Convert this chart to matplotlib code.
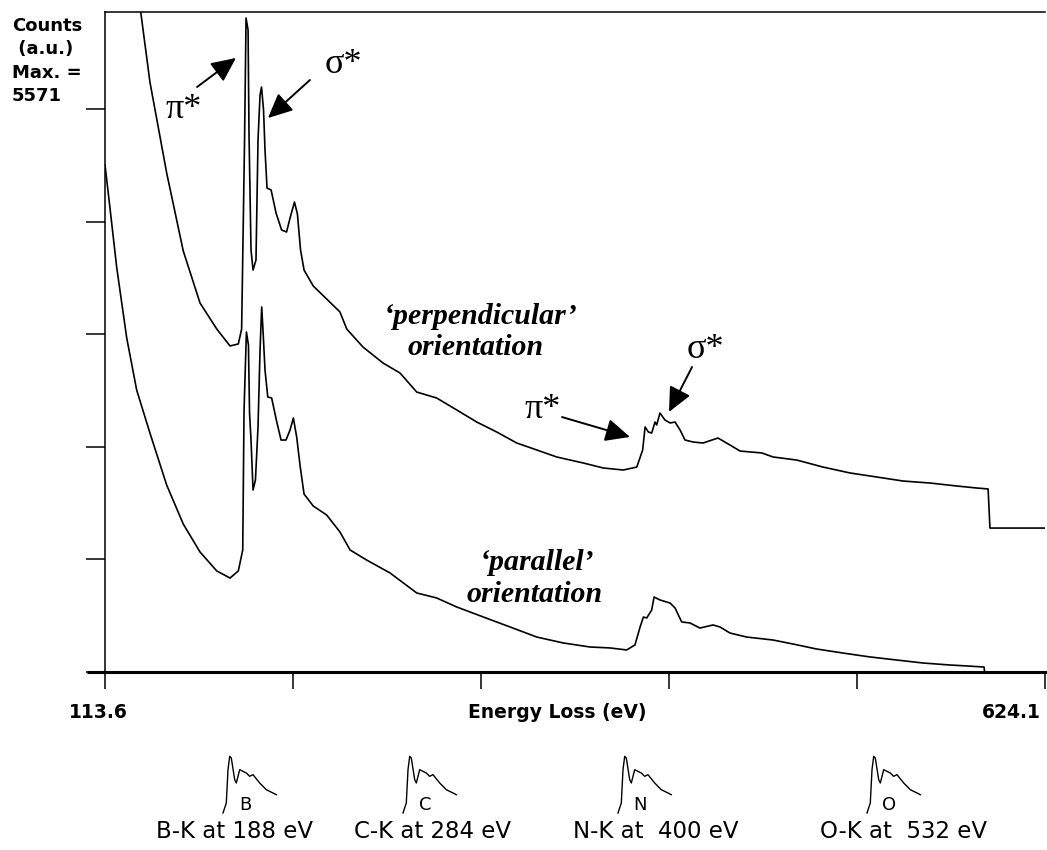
import matplotlib
matplotlib.use('Agg')
import matplotlib.pyplot as plt
from matplotlib.lines import Line2D

# EELS spectra of BN, two orientations (energy loss in eV, counts)
perp_ev = [129.9, 133.0, 138.0, 147.1, 156.1, 165.2, 174.3, 181.5, 186.0, 187.8,
           189.4, 190.2, 191.3, 191.8, 192.9, 194.0, 195.6, 196.7, 197.8, 198.6,
           199.7, 200.5, 201.6, 203.8, 206.5, 209.5, 212.2, 214.1, 216.5, 218.1,
           219.8, 221.7, 226.7, 234.0, 241.2, 244.9, 253.7, 264.6, 273.8, 282.9,
           293.7, 304.6, 315.5, 326.3, 337.2, 348.1, 358.9, 373.4, 384.2, 395.1,
           402.4, 405.6, 406.9, 408.7, 410.5, 412.3, 413.2, 415.0, 417.7, 420.5,
           423.2, 425.9, 428.6, 433.1, 438.4, 446.5, 453.0, 458.5, 470.3, 476.4,
           489.3, 503.5, 518.2, 532.7, 547.0, 561.7, 576.2, 587.0, 593.2, 594.2,
           624.1]
perp_counts = [6179, 5571, 4980, 4212, 3554, 3115, 2895, 2752, 2769, 2895,
               4499, 5520, 5419, 4550, 3562, 3393, 3478, 4491, 4870, 4938,
               4744, 4406, 4085, 4069, 3874, 3731, 3714, 3832, 3967, 3866,
               3562, 3393, 3258, 3148, 3039, 2895, 2743, 2608, 2524, 2363,
               2313, 2212, 2110, 2026, 1933, 1874, 1815, 1764, 1722, 1705,
               1730, 1874, 2068, 2026, 2017, 2110, 2085, 2186, 2127, 2102,
               2110, 2043, 1958, 1941, 1933, 1975, 1916, 1865, 1849, 1815,
               1789, 1730, 1680, 1646, 1612, 1595, 1570, 1553, 1545, 1215,
               1215]

par_ev = [113.6, 116.3, 120.0, 125.4, 130.8, 138.0, 147.1, 156.1, 165.2, 174.3,
          181.5, 186.0, 188.4, 189.1, 190.4, 191.5, 192.1, 192.9, 194.0, 195.3,
          196.7, 197.8, 198.7, 199.4, 200.5, 202.0, 204.1, 206.9, 209.2, 211.9,
          214.1, 215.9, 217.7, 219.5, 221.7, 226.7, 234.0, 241.2, 246.7, 255.7,
          268.4, 282.9, 293.7, 304.6, 319.1, 333.6, 348.1, 362.5, 377.0, 387.9,
          396.9, 401.4, 404.2, 406.0, 407.8, 410.5, 411.8, 415.0, 420.5, 423.2,
          426.8, 431.3, 436.7, 443.8, 447.6, 453.0, 462.1, 476.4, 487.3, 500.1,
          514.4, 529.1, 543.6, 557.8, 572.5, 581.6, 591.0, 591.3]
par_counts = [4280, 3917, 3410, 2819, 2380, 2017, 1578, 1249, 1013, 853,
              793, 853, 1030, 2203, 2870, 2760, 2186, 1958, 1536, 1621,
              2068, 2718, 3081, 2887, 2549, 2321, 2313, 2110, 1958, 1958,
              2043, 2144, 1984, 1747, 1502, 1401, 1325, 1182, 1030, 945,
              836, 667, 625, 549, 464, 380, 295, 245, 211, 203,
              186, 228, 380, 464, 456, 523, 633, 608, 582, 540,
              422, 414, 371, 397, 380, 329, 295, 270, 236, 194,
              160, 127, 101, 76, 59, 51, 42, 0]

x_min, x_max = 113.6, 624.1
y_max = 5571
x_ticks = [113.6, 215.7, 317.8, 419.9, 522.0, 624.1]
y_ticks = [0, 950, 1900, 2850, 3800, 4750]

# edge reference icons shown under the axis
edge_letters = ['B', 'C', 'N', 'O']
edge_labels = ['B-K at 188 eV', 'C-K at 284 eV', 'N-K at  400 eV', 'O-K at  532 eV']
icon_dx = [0, 3.3, 5, 6.7, 8.3, 11.7, 13.3, 16.7, 23.3, 26.7, 30, 36.7, 43.3, 50, 53.3]
icon_dy = [0, 10, 43.3, 56.7, 55, 33.3, 30, 43.3, 40, 36.7, 38.3, 30, 23.3, 20, 18.3]

W, H = 1047, 850
fig = plt.figure(figsize=(W / 100, H / 100), dpi=100)
ax = fig.add_axes([105 / W, 1 - 672 / H, 940 / W, 660 / H])


def fp(x, y):
    # pixel position -> figure fraction
    return x / W, 1 - y / H


ax.plot(perp_ev, perp_counts, color='black', lw=1.2)
ax.plot(par_ev, par_counts, color='black', lw=1.2)
ax.set_xlim(x_min, x_max)
ax.set_ylim(0, y_max)

ax.spines['right'].set_visible(False)
ax.spines['top'].set_linewidth(1.1)
ax.spines['left'].set_linewidth(1.1)
ax.spines['bottom'].set_linewidth(2.2)
ax.plot([-18 / 940, 0], [0, 0], transform=ax.transAxes, clip_on=False,
        color='black', lw=2.2, solid_capstyle='butt')

ax.set_xticks(x_ticks)
ax.set_yticks(y_ticks)
ax.set_xticklabels([])
ax.set_yticklabels([])
ax.tick_params(axis='x', length=12, width=1.1, direction='out')
ax.tick_params(axis='y', length=14, width=1.1, direction='out')

sans = dict(family='DejaVu Sans', fontweight='bold')
fig.text(*fp(98, 712), f'{x_ticks[0]:.1f}', ha='center', va='center', fontsize=13.5, **sans)
fig.text(*fp(557, 712), 'Energy Loss (eV)', ha='center', va='center', fontsize=13.5, **sans)
fig.text(*fp(1011, 712), f'{x_ticks[-1]:.1f}', ha='center', va='center', fontsize=13.5, **sans)
fig.text(*fp(12, 17), f'Counts\n (a.u.)\nMax. =\n{y_max}', ha='left', va='top',
         fontsize=13, linespacing=1.38, **sans)

serif = dict(family='Liberation Serif', fontsize=26, ha='center', va='center')
bi = dict(family='Liberation Serif', fontsize=21.5, fontweight='bold',
          fontstyle='italic', ha='center', va='center')
arrow = dict(arrowstyle='-|>,head_length=0.75,head_width=0.35', mutation_scale=20,
             color='black', lw=1.4, shrinkA=0, shrinkB=0)

# B-K edge
ax.text(156.5, 4744, 'π*', **serif)
ax.annotate('', xy=(184.7, 5183), xytext=(163.6, 4938), arrowprops=arrow)
ax.text(242.9, 5124, 'σ*', **serif)
ax.annotate('', xy=(202.1, 4676), xytext=(224.9, 4997), arrowprops=arrow)
# N-K edge
ax.text(351.5, 2212, 'π*', **serif)
ax.annotate('', xy=(398.7, 1984), xytext=(361.8, 2152), arrowprops=arrow)
ax.text(439.5, 2718, 'σ*', **serif)
ax.annotate('', xy=(419.9, 2195), xytext=(432.4, 2574), arrowprops=arrow)

ax.text(317.3, 2997, '\u2018perpendicular\u2019', **bi)
ax.text(315.1, 2743, 'orientation', **bi)
ax.text(348.2, 928, '\u2018parallel\u2019', **bi)
ax.text(347.1, 658, 'orientation', **bi)

icon_x0 = [223, 403, 618, 867]
label_cx = [235, 433, 656, 903]
base_y = 813
for x0, letter, lab, cx in zip(icon_x0, edge_letters, edge_labels, label_cx):
    xs = [(x0 + d) / W for d in icon_dx]
    ys = [1 - (base_y - d) / H for d in icon_dy]
    fig.add_artist(Line2D(xs, ys, color='black', lw=1.0))
    fig.text(*fp(x0 + 22, base_y - 8), letter, family='DejaVu Sans', fontsize=13,
             ha='center', va='center')
    fig.text(*fp(cx, 832), lab, family='DejaVu Sans', fontsize=16.5,
             ha='center', va='center')

fig.savefig('out.png', dpi=100)
